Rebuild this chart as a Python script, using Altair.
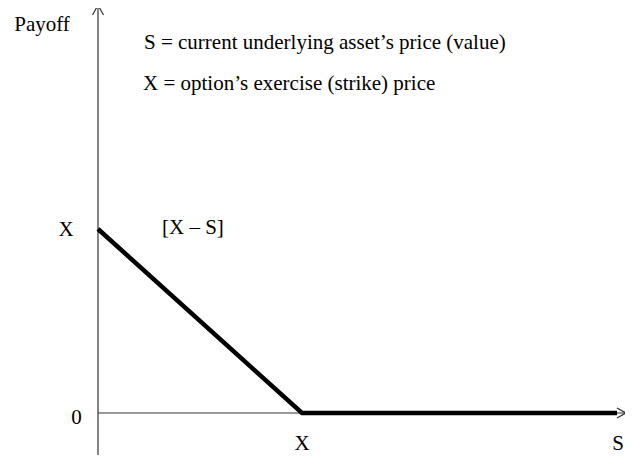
import altair as alt
import pandas as pd

# ---- data ----
strike = 10.0
spot = [0.0, 10.0, 25.44]          # underlying price S
payoff = [10.0, 0.0, 0.0]           # put payoff max(X - S, 0)

x_domain = [-4.412, 25.833]
y_domain = [-2.283, 22.011]

axis_x_s = [0.0, 25.88]
axis_y_p = [-2.72, 22.17]

# arrowheads (open chevrons)
arrow_id = ["y", "y", "y", "x", "x", "x"]
arrow_s = [-0.27, 0.0, 0.27, 25.44, 25.88, 25.44]
arrow_p = [21.63, 22.17, 21.63, 0.27, 0.0, -0.27]
arrow_ord = [0, 1, 2, 0, 1, 2]

FONT = "Liberation Serif"
FS = 21

xs = alt.Scale(domain=x_domain, nice=False, zero=False)
ys = alt.Scale(domain=y_domain, nice=False, zero=False)

line_df = pd.DataFrame({"S": spot, "P": payoff})
xaxis_df = pd.DataFrame({"S": axis_x_s, "P": [0.0, 0.0]})
yaxis_df = pd.DataFrame({"S": [0.0, 0.0], "P": axis_y_p})
arrow_df = pd.DataFrame({"id": arrow_id, "S": arrow_s, "P": arrow_p, "o": arrow_ord})

X = lambda: alt.X("S:Q", scale=xs, axis=None)
Y = lambda: alt.Y("P:Q", scale=ys, axis=None)

xaxis = alt.Chart(xaxis_df).mark_line(color="#333333", strokeWidth=1.2).encode(x=X(), y=Y())
yaxis = alt.Chart(yaxis_df).mark_line(color="#333333", strokeWidth=1.2).encode(x=X(), y=Y())
arrows = alt.Chart(arrow_df).mark_line(color="#333333", strokeWidth=1.2).encode(
    x=X(), y=Y(), detail="id:N", order="o:Q")
pay = alt.Chart(line_df).mark_line(color="black", strokeWidth=4.5, strokeJoin="miter").encode(
    x=X(), y=Y())

labels_df = pd.DataFrame({
    "t": ["Payoff", "S = current underlying asset\u2019s price (value)",
          "X = option\u2019s exercise (strike) price", "[X \u2013 S]",
          "X", "0", "X", "S"],
    "S": [-2.745, 2.255, 2.206, 3.137, -1.569, -1.054, strike, 25.49],
    "P": [20.76, 19.76, 17.55, 9.73, strike, 0.0, -2.011, -2.011],
    "dy": [0, 0, 0, 0, 7, 11, 0, 0],
    "al": ["center", "left", "left", "left", "center", "center", "center", "center"],
})

texts = []
for _, r in labels_df.iterrows():
    texts.append(
        alt.Chart(pd.DataFrame([r])).mark_text(
            font=FONT, fontSize=FS, color="black", align=r["al"],
            baseline="alphabetic", dy=float(r["dy"]),
        ).encode(x=X(), y=Y(), text="t:N")
    )

chart = alt.layer(xaxis, yaxis, arrows, pay, *texts).properties(
    width=617, height=447, padding=0, autosize=alt.AutoSizeParams(type="none")
).configure_view(stroke=None)

chart.save("out.html", embed_options={"renderer": "svg", "actions": False})
